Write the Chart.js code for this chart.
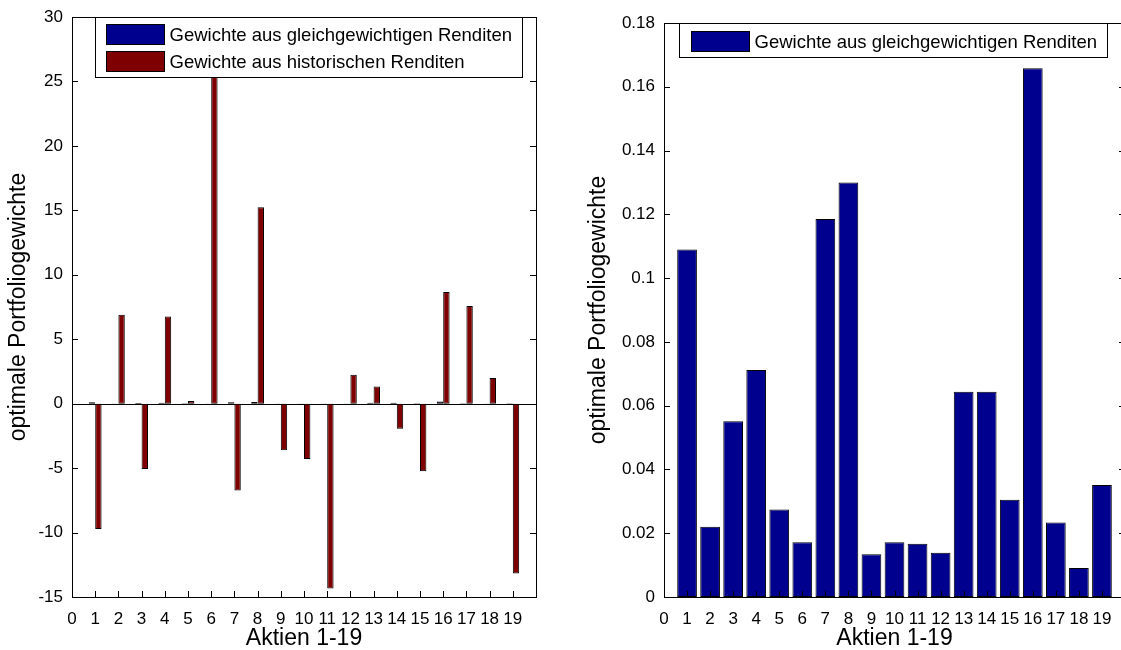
<!DOCTYPE html>
<html>
<head>
<meta charset="utf-8">
<title>Optimale Portfoliogewichte</title>
<script src="https://cdn.jsdelivr.net/npm/chart.js@4/dist/chart.umd.min.js"></script>
<style>
  html, body { margin: 0; padding: 0; background: #fff; overflow: hidden; width: 1121px; height: 650px; }
  #links { position: absolute; left: 0; top: 0; }
  #rechts { position: absolute; left: 580px; top: 0; }
</style>
</head>
<body>
<canvas id="links" width="580" height="650"></canvas>
<canvas id="rechts" width="560" height="650"></canvas>
<script>
// Aktien 1-19 (x-Achse)
const aktien = [1, 2, 3, 4, 5, 6, 7, 8, 9, 10, 11, 12, 13, 14, 15, 16, 17, 18, 19];

// Gewichte aus gleichgewichtigen Renditen
const gleichgewicht = [0.109, 0.022, 0.0551, 0.0712, 0.0274, 0.0172, 0.1185, 0.130, 0.0134, 0.0172,
                       0.0167, 0.0139, 0.0644, 0.0644, 0.0305, 0.1658, 0.0234, 0.0091, 0.0351];

// Gewichte aus historischen Renditen
const historisch = [-9.73, 6.9, -5.07, 6.77, 0.2, 28, -6.73, 15.23, -3.62, -4.3,
                    -14.35, 2.25, 1.34, -1.94, -5.25, 8.66, 7.57, 1.99, -13.17];

// Achsenbeschriftungen
const xTicks = [0, 1, 2, 3, 4, 5, 6, 7, 8, 9, 10, 11, 12, 13, 14, 15, 16, 17, 18, 19];
const yTicksLinks = [-15, -10, -5, 0, 5, 10, 15, 20, 25, 30];
const yTicksRechts = [0, 0.02, 0.04, 0.06, 0.08, 0.1, 0.12, 0.14, 0.16, 0.18];

const blau = '#00008f';
const rot = '#7f0000';

Chart.defaults.font.family = "'Liberation Sans', Arial, sans-serif";
Chart.defaults.color = '#000';

const punkte = (werte) => aktien.map((a, i) => ({ x: a, y: werte[i] }));
const zahl = (v) => String(+Number(v).toFixed(4));

// MATLAB-Stil: Nulllinie, Rahmen, Ticks nach innen und Legende im Achsenfeld
const matlabAchsen = {
  id: 'matlabAchsen',
  beforeDatasetsDraw(chart, args, opts) {
    if (!opts.nulllinie) return;
    const { ctx, chartArea: a, scales: { y } } = chart;
    const py = Math.round(y.getPixelForValue(0)) + 0.5;
    ctx.save();
    ctx.strokeStyle = '#000';
    ctx.lineWidth = 1;
    ctx.beginPath();
    ctx.moveTo(a.left, py);
    ctx.lineTo(a.right, py);
    ctx.stroke();
    ctx.restore();
  },
  afterDatasetsDraw(chart, args, opts) {
    const { ctx, chartArea: a, scales: { x, y } } = chart;
    const len = 6;
    ctx.save();
    ctx.strokeStyle = '#000';
    ctx.lineWidth = 1;
    ctx.beginPath();
    y.ticks.forEach(t => {
      const py = Math.round(y.getPixelForValue(t.value)) + 0.5;
      ctx.moveTo(a.left, py); ctx.lineTo(a.left + len, py);
      ctx.moveTo(a.right, py); ctx.lineTo(a.right - len, py);
    });
    x.ticks.forEach(t => {
      const px = Math.round(x.getPixelForValue(t.value)) + 0.5;
      ctx.moveTo(px, a.bottom); ctx.lineTo(px, a.bottom - len);
      ctx.moveTo(px, a.top); ctx.lineTo(px, a.top + len);
    });
    ctx.stroke();
    ctx.strokeRect(Math.round(a.left) + 0.5, Math.round(a.top) + 0.5,
                   Math.round(a.right - a.left), Math.round(a.bottom - a.top));

    // Legende
    const L = opts.legende;
    const bx = Math.round(a.left + L.x) + 0.5;
    const by = Math.round(a.top + L.y) + 0.5;
    ctx.fillStyle = '#fff';
    ctx.fillRect(bx, by, L.w, L.h);
    ctx.strokeRect(bx, by, L.w, L.h);
    ctx.font = L.schrift + "px 'Liberation Sans', Arial, sans-serif";
    ctx.textBaseline = 'middle';
    ctx.textAlign = 'left';
    chart.data.datasets.forEach((ds, i) => {
      const sy = Math.round(by + L.zeile + i * L.abstand) + 0.5;
      ctx.fillStyle = ds.backgroundColor;
      ctx.fillRect(bx + L.feldX, sy, L.feldB, L.feldH);
      ctx.strokeRect(bx + L.feldX, sy, L.feldB, L.feldH);
      ctx.fillStyle = '#000';
      ctx.fillText(ds.label, bx + L.textX, sy + L.feldH / 2 + 1);
    });
    ctx.restore();
  }
};

function diagramm(id, datasets, cfg) {
  return new Chart(document.getElementById(id), {
    type: 'bar',
    data: { datasets },
    plugins: [matlabAchsen],
    options: {
      responsive: false,
      animation: false,
      events: [],
      layout: { padding: cfg.padding },
      datasets: {
        bar: {
          categoryPercentage: cfg.kategorie,
          barPercentage: cfg.balken,
          borderColor: '#000',
          borderWidth: 1,
          borderSkipped: false
        }
      },
      plugins: {
        legend: { display: false },
        tooltip: { enabled: false },
        matlabAchsen: { legende: cfg.legende, nulllinie: cfg.nulllinie }
      },
      scales: {
        x: {
          type: 'linear',
          min: 0,
          max: 20,
          offset: false,
          grid: { display: false, offset: false },
          border: { display: false },
          afterBuildTicks: s => { s.ticks = xTicks.map(v => ({ value: v })); },
          afterFit: s => { s.height = 53; s.paddingLeft = 0; s.paddingRight = 0; },
          ticks: {
            autoSkip: false,
            maxRotation: 0,
            padding: 4,
            font: { size: cfg.tickSchrift },
            callback: v => String(v)
          },
          title: {
            display: true,
            text: 'Aktien 1-19',
            font: { size: 23, lineHeight: 1 },
            padding: { top: 0, bottom: 0 }
          }
        },
        y: {
          type: 'linear',
          min: cfg.yTicks[0],
          max: cfg.yTicks[cfg.yTicks.length - 1],
          grid: { display: false, drawTicks: false },
          border: { display: false },
          afterBuildTicks: s => { s.ticks = cfg.yTicks.map(v => ({ value: v })); },
          afterFit: s => { s.width = cfg.yBreite; s.paddingTop = 0; s.paddingBottom = 0; },
          ticks: {
            padding: 9,
            font: { size: cfg.tickSchrift },
            callback: v => zahl(v)
          },
          title: {
            display: true,
            text: 'optimale Portfoliogewichte',
            font: { size: 23, lineHeight: 1 },
            padding: { top: 7, bottom: 0 }
          }
        }
      }
    }
  });
}

diagramm('links', [
  { label: 'Gewichte aus gleichgewichtigen Renditen', data: punkte(gleichgewicht), backgroundColor: blau },
  { label: 'Gewichte aus historischen Renditen', data: punkte(historisch), backgroundColor: rot }
], {
  padding: { top: 17, right: 44, bottom: 0, left: 0 },
  kategorie: 0.55,
  balken: 1,
  yTicks: yTicksLinks,
  yBreite: 72,
  tickSchrift: 17,
  nulllinie: true,
  legende: { x: 23, y: 0, w: 427, h: 60, feldX: 11, feldB: 58, feldH: 20, zeile: 6, abstand: 27, textX: 74, schrift: 18.5 }
});

diagramm('rechts', [
  { label: 'Gewichte aus gleichgewichtigen Renditen', data: punkte(gleichgewicht), backgroundColor: blau }
], {
  padding: { top: 23, right: 15, bottom: 0, left: 0 },
  kategorie: 1,
  balken: 0.855,
  yTicks: yTicksRechts,
  yBreite: 84,
  tickSchrift: 17,
  nulllinie: false,
  legende: { x: 15, y: 0, w: 428, h: 34, feldX: 12, feldB: 58, feldH: 20, zeile: 7, abstand: 27, textX: 75, schrift: 18.5 }
});
</script>
</body>
</html>
